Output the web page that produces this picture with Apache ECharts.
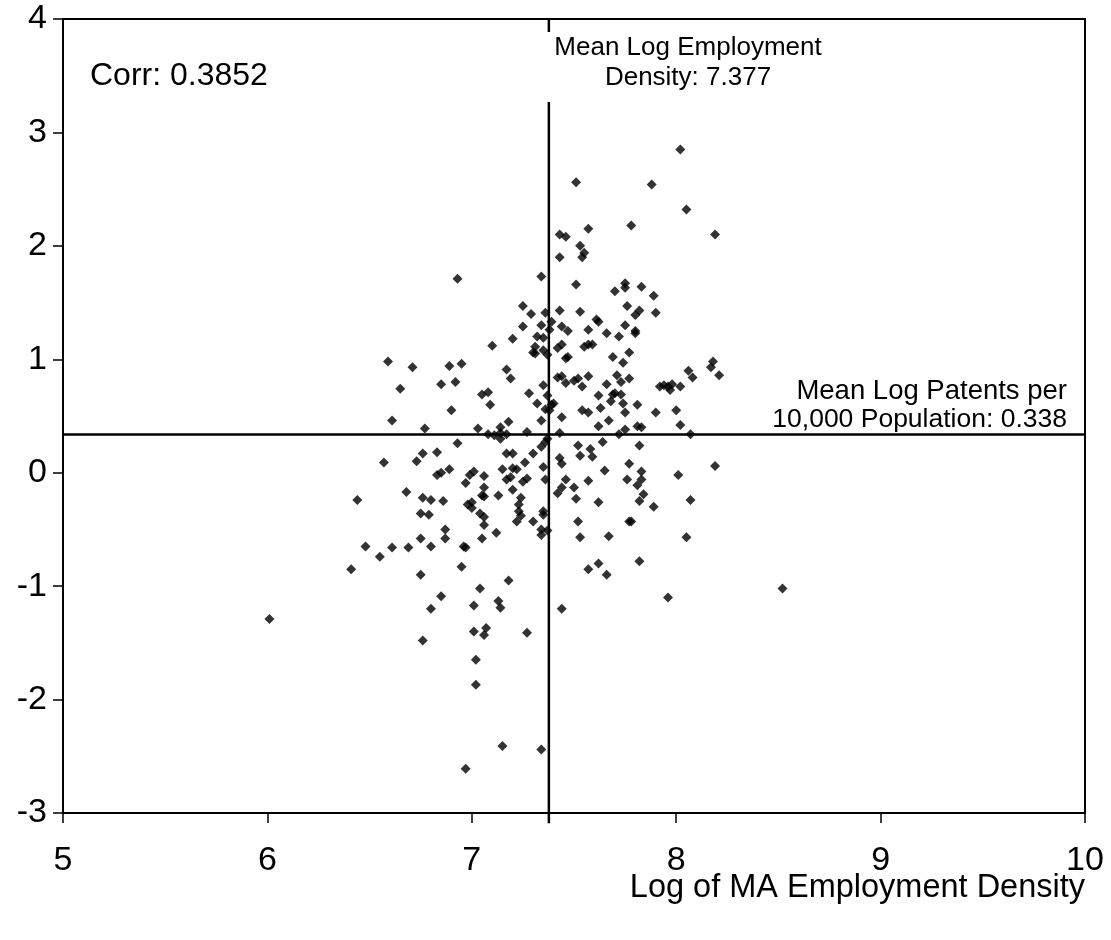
<!DOCTYPE html>
<html><head><meta charset="utf-8">
<script src="https://cdn.jsdelivr.net/npm/echarts@6/dist/echarts.min.js"></script>
<style>html,body{margin:0;padding:0;background:#fff}#c{width:1111px;height:940px}</style>
</head><body><div id="c"></div>
<script>
// [log MA employment density, log patents per 10,000 population]
const points = [
[6.93,1.71],[8.02,2.85],[7.51,2.56],[7.88,2.54],[8.05,2.32],[7.78,2.18],[8.19,2.10],[7.57,2.15],[7.43,2.10],[7.46,2.08],
[7.53,2.00],[7.55,1.94],[7.54,1.90],[7.43,1.90],[7.34,1.73],[7.51,1.66],[7.75,1.67],[7.75,1.63],[7.70,1.60],[7.83,1.64],
[7.89,1.56],[7.76,1.47],[7.90,1.41],[7.82,1.43],[7.80,1.39],[7.25,1.47],[7.29,1.40],[7.36,1.41],[7.43,1.43],[7.53,1.42],
[7.61,1.35],[7.62,1.33],[7.25,1.29],[7.34,1.30],[7.39,1.33],[7.44,1.29],[7.47,1.25],[7.38,1.26],[7.57,1.26],[7.66,1.23],
[7.75,1.30],[7.80,1.23],[7.80,1.25],[7.72,1.20],[7.20,1.18],[7.32,1.20],[7.35,1.19],[7.31,1.11],[7.30,1.06],[7.31,1.05],
[7.35,1.08],[7.37,1.04],[7.42,1.10],[7.44,1.13],[7.55,1.11],[7.57,1.13],[7.59,1.13],[7.46,1.01],[7.47,1.02],[7.69,1.02],
[7.77,1.06],[7.74,0.97],[7.17,0.91],[7.19,0.83],[7.42,0.84],[7.44,0.85],[7.50,0.81],[7.52,0.83],[7.57,0.85],[7.54,0.76],
[7.46,0.79],[7.35,0.77],[7.71,0.86],[7.66,0.78],[7.73,0.80],[7.77,0.83],[7.28,0.70],[7.37,0.68],[7.62,0.68],[7.69,0.69],
[7.70,0.70],[7.73,0.69],[7.68,0.63],[7.74,0.61],[7.81,0.60],[7.32,0.61],[7.39,0.60],[7.40,0.61],[7.38,0.55],[7.36,0.56],
[7.54,0.55],[7.57,0.53],[7.63,0.57],[7.75,0.53],[7.90,0.53],[8.00,0.55],[7.92,0.76],[7.94,0.77],[7.96,0.76],[7.98,0.78],
[7.97,0.73],[8.02,0.76],[8.06,0.90],[8.08,0.84],[8.18,0.98],[8.17,0.93],[8.21,0.86],[8.02,0.42],[7.44,0.49],[7.34,0.46],
[7.18,0.45],[7.67,0.46],[7.62,0.41],[7.75,0.38],[7.81,0.41],[7.83,0.40],[7.14,0.40],[7.14,0.35],[7.14,0.30],[7.17,0.34],
[7.27,0.36],[7.43,0.35],[7.72,0.34],[8.07,0.34],[7.64,0.27],[7.52,0.24],[7.58,0.21],[7.82,0.24],[7.53,0.15],[7.59,0.14],
[7.34,0.23],[7.36,0.27],[7.37,0.30],[7.30,0.17],[7.17,0.17],[7.20,0.17],[7.43,0.13],[7.44,0.08],[7.35,0.05],[7.26,0.09],
[7.15,0.03],[7.22,0.03],[7.20,0.04],[7.77,0.08],[7.65,0.02],[8.19,0.06],[8.01,-0.02],[7.83,0.01],[7.83,-0.06],[7.76,-0.06],
[7.81,-0.11],[7.57,-0.07],[7.46,-0.06],[7.44,-0.13],[7.42,-0.18],[7.50,-0.13],[7.51,-0.23],[7.36,-0.06],[7.17,-0.06],[7.19,-0.04],
[7.27,-0.05],[7.25,-0.08],[7.20,-0.15],[7.84,-0.19],[7.82,-0.25],[8.07,-0.24],[7.89,-0.30],[7.62,-0.26],[7.24,-0.22],[7.23,-0.28],
[7.23,-0.34],[7.24,-0.38],[7.22,-0.43],[7.35,-0.34],[7.35,-0.37],[7.30,-0.43],[7.52,-0.43],[7.77,-0.43],[7.78,-0.43],[7.34,-0.50],
[7.37,-0.51],[7.34,-0.55],[7.53,-0.57],[7.67,-0.56],[8.05,-0.57],[7.18,-0.95],[7.27,-1.41],[7.44,-1.20],[7.57,-0.85],[7.62,-0.80],
[7.66,-0.90],[7.82,-0.78],[7.96,-1.10],[8.52,-1.02],[7.10,1.12],[6.59,0.98],[6.71,0.93],[6.89,0.94],[6.95,0.96],[6.85,0.78],
[6.92,0.80],[6.65,0.74],[7.05,0.69],[7.08,0.71],[7.09,0.60],[6.90,0.55],[6.61,0.46],[6.77,0.39],[7.03,0.39],[7.08,0.34],
[7.11,0.33],[6.93,0.26],[6.76,0.17],[6.83,0.18],[6.57,0.09],[6.73,0.10],[6.89,0.03],[6.83,-0.02],[6.85,0.00],[6.99,-0.02],
[7.01,0.01],[7.06,-0.03],[6.97,-0.09],[7.06,-0.13],[7.05,-0.20],[7.06,-0.21],[7.13,-0.20],[6.68,-0.17],[6.44,-0.24],[6.76,-0.22],
[6.80,-0.24],[6.86,-0.25],[6.98,-0.28],[7.00,-0.26],[7.00,-0.31],[7.04,-0.36],[7.06,-0.39],[7.06,-0.46],[6.75,-0.36],[6.79,-0.37],
[6.87,-0.50],[6.75,-0.58],[6.87,-0.58],[7.05,-0.58],[7.12,-0.53],[6.48,-0.65],[6.61,-0.66],[6.69,-0.66],[6.80,-0.65],[6.96,-0.65],
[6.97,-0.66],[6.55,-0.74],[6.41,-0.85],[6.75,-0.90],[6.95,-0.83],[7.04,-1.02],[6.85,-1.09],[6.80,-1.20],[7.01,-1.17],[7.13,-1.13],
[7.14,-1.19],[6.01,-1.29],[6.76,-1.48],[7.01,-1.40],[7.07,-1.37],[7.06,-1.43],[7.02,-1.65],[7.02,-1.87],[7.15,-2.41],[6.97,-2.61],
[7.34,-2.44]
];
const meanX = 7.377;           // mean log employment density
const meanY = 0.338;           // mean log patents per 10,000 population
const corr = '0.3852';
const xRange = [5, 10];
const yRange = [-3, 4];
const vLineEnds = [4, -3.09];  // extent of the vertical mean line (y values)
const meanXLabel = ['Mean Log Employment', 'Density: 7.377'];
const meanYLabel = ['Mean Log Patents per', '10,000 Population: 0.338'];
const xTitle = 'Log of MA Employment Density';

const FONT = "'Liberation Sans', Arial, Helvetica, sans-serif";
const chart = echarts.init(document.getElementById('c'), null, {renderer: 'canvas'});
const option = {
  animation: false,
  backgroundColor: '#fff',
  textStyle: {fontFamily: FONT},
  grid: {left: 63, right: 26, top: 19, bottom: 127, show: true, borderColor: '#000', borderWidth: 2, backgroundColor: 'transparent'},
  xAxis: {
    type: 'value', min: xRange[0], max: xRange[1], interval: 1,
    axisLine: {show: true, onZero: false, lineStyle: {color: '#000', width: 2}},
    axisTick: {show: true, inside: false, length: 10, lineStyle: {color: '#000', width: 1.5}},
    axisLabel: {color: '#000', fontSize: 34, fontFamily: FONT, margin: 31, showMinLabel: true, showMaxLabel: true},
    splitLine: {show: false}
  },
  yAxis: {
    type: 'value', min: yRange[0], max: yRange[1], interval: 1,
    axisLine: {show: true, onZero: false, lineStyle: {color: '#000', width: 2}},
    axisTick: {show: true, inside: false, length: 10, lineStyle: {color: '#000', width: 1.5}},
    axisLabel: {color: '#000', fontSize: 34, fontFamily: FONT, margin: 16, showMinLabel: true, showMaxLabel: true},
    splitLine: {show: false}
  },
  series: [
    {type: 'line', data: [[meanX, vLineEnds[0]], [meanX, vLineEnds[1]]], symbol: 'none', clip: false,
     lineStyle: {color: '#000', width: 2.5}, z: 3, silent: true},
    {type: 'line', data: [[xRange[0], meanY], [xRange[1], meanY]], symbol: 'none', clip: false,
     lineStyle: {color: '#000', width: 2.5}, z: 3, silent: true},
    {type: 'scatter', data: points, symbol: 'diamond', symbolSize: 10, itemStyle: {color: '#000'}, z: 5}
  ],
  graphic: [
    {type: 'rect', z: 50, shape: {x: 545, y: 32, width: 290, height: 70}, style: {fill: '#fff'}},
    {type: 'text', z: 60, x: 688, y: 48, style: {text: meanXLabel[0], fontSize: 26, fontFamily: FONT, fill: '#000', align: 'center', verticalAlign: 'middle'}},
    {type: 'text', z: 60, x: 688, y: 78, style: {text: meanXLabel[1], fontSize: 26, fontFamily: FONT, fill: '#000', align: 'center', verticalAlign: 'middle'}},
    {type: 'text', z: 60, x: 1067, y: 391, style: {text: meanYLabel[0], fontSize: 27.5, fontFamily: FONT, fill: '#000', align: 'right', verticalAlign: 'middle'}},
    {type: 'text', z: 60, x: 1067, y: 420, style: {text: meanYLabel[1], fontSize: 26.5, fontFamily: FONT, fill: '#000', align: 'right', verticalAlign: 'middle'}},
    {type: 'text', z: 60, x: 90, y: 76, style: {text: 'Corr: ' + corr, fontSize: 32, fontFamily: FONT, fill: '#000', align: 'left', verticalAlign: 'middle'}},
    {type: 'text', z: 60, x: 1085, y: 888, style: {text: xTitle, fontSize: 32.5, fontFamily: FONT, fill: '#000', align: 'right', verticalAlign: 'middle'}}
  ]
};
chart.setOption(option);
</script>
</body></html>
